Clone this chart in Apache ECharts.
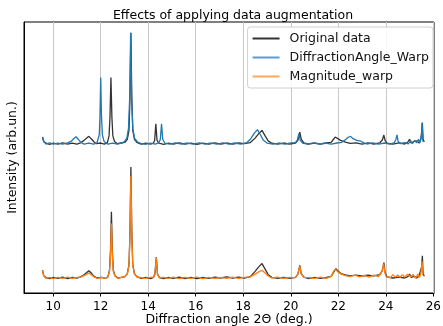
<!DOCTYPE html>
<html>
<head>
<meta charset="utf-8">
<script src="https://cdn.jsdelivr.net/npm/echarts@6/dist/echarts.min.js"></script>
<style>
  html, body { margin: 0; padding: 0; background: #fff; }
  #chart { width: 443px; height: 326px; }
</style>
</head>
<body>
<div id="chart"></div>
<script>
// x tick labels (deg.)
const xTicks = [10, 12, 14, 16, 18, 20, 22, 24, 26]

// vertical stacking of the two pairs of patterns
const upperOffset = 1.345
const lowerOffset = 0.135

// original pattern, upper pair (2theta, relative intensity)
const originalTop = [
  [9.55, 0.06], [9.6, 0.02], [9.7, 0.004], [9.85, -0.006], [10.0, 0.006], [10.2, -0.004], [10.4, 0.008],
  [10.6, -0.005], [10.8, 0.006], [11.0, -0.004], [11.15, 0.008], [11.3, 0.03], [11.5, 0.066], [11.62, 0.04],
  [11.72, 0.015], [11.82, 0.0], [12.0, 0.006], [12.15, -0.004], [12.28, 0.01], [12.35, 0.07], [12.39, 0.24],
  [12.43, 0.597], [12.47, 0.24], [12.51, 0.07], [12.58, 0.02], [12.7, 0.0], [12.85, 0.006], [13.02, 0.012],
  [13.12, 0.04], [13.19, 0.12], [13.23, 0.4], [13.27, 1.0], [13.31, 0.4], [13.35, 0.12], [13.42, 0.04],
  [13.52, 0.012], [13.7, -0.004], [13.9, 0.006], [14.1, -0.005], [14.22, 0.006], [14.27, 0.03], [14.32, 0.18],
  [14.37, 0.03], [14.45, 0.004], [14.65, -0.006], [14.85, 0.006], [15.05, -0.004], [15.3, 0.007], [15.55, -0.005],
  [15.8, 0.006], [16.05, -0.006], [16.3, 0.005], [16.55, -0.004], [16.8, 0.007], [17.05, -0.005], [17.3, 0.006],
  [17.55, -0.004], [17.8, 0.006], [18.05, 0.0], [18.3, 0.01], [18.5, 0.05], [18.65, 0.09], [18.79, 0.12],
  [18.92, 0.07], [19.05, 0.025], [19.2, 0.004], [19.45, -0.005], [19.7, 0.006], [19.95, -0.004], [20.2, 0.006],
  [20.3, 0.03], [20.38, 0.105], [20.44, 0.04], [20.55, 0.008], [20.75, -0.005], [21.0, 0.006], [21.25, -0.004],
  [21.5, 0.006], [21.7, 0.012], [21.8, 0.04], [21.87, 0.06], [21.95, 0.05], [22.1, 0.03], [22.3, 0.015],
  [22.5, 0.002], [22.75, 0.008], [23.0, -0.004], [23.25, 0.007], [23.5, -0.003], [23.75, 0.008], [23.86, 0.035],
  [23.92, 0.078], [23.97, 0.03], [24.05, 0.004], [24.3, -0.004], [24.55, 0.007], [24.8, -0.003], [24.93, 0.015],
  [25.0, 0.04], [25.07, 0.006], [25.18, 0.02], [25.25, 0.002], [25.32, 0.025], [25.4, 0.005], [25.47, 0.035],
  [25.51, 0.1], [25.54, 0.19], [25.57, 0.04], [25.62, 0.015]
]

// DiffractionAngle_Warp, upper pair
const angleWarp = [
  [9.55, 0.06], [9.6, 0.02], [9.7, -0.004], [9.85, 0.007], [10.0, -0.005], [10.2, 0.006], [10.4, -0.004],
  [10.6, 0.008], [10.75, 0.02], [10.85, 0.042], [10.96, 0.062], [11.06, 0.038], [11.16, 0.012], [11.3, -0.004],
  [11.5, 0.006], [11.7, -0.004], [11.84, 0.008], [11.9, 0.025], [11.94, 0.08], [11.97, 0.26], [12.0, 0.595],
  [12.03, 0.26], [12.07, 0.08], [12.14, 0.02], [12.3, -0.004], [12.5, 0.006], [12.7, -0.004], [12.9, 0.008],
  [13.0, 0.018], [13.1, 0.05], [13.17, 0.14], [13.22, 0.42], [13.26, 1.0], [13.3, 0.42], [13.35, 0.14],
  [13.42, 0.05], [13.55, 0.015], [13.7, 0.0], [13.9, -0.005], [14.1, 0.006], [14.3, -0.004], [14.45, 0.01],
  [14.51, 0.04], [14.56, 0.18], [14.61, 0.04], [14.7, 0.004], [14.9, -0.005], [15.15, 0.007], [15.4, -0.004],
  [15.65, 0.006], [15.9, -0.005], [16.15, 0.007], [16.4, -0.004], [16.65, 0.006], [16.9, -0.005], [17.15, 0.007],
  [17.4, -0.004], [17.65, 0.006], [17.9, -0.004], [18.15, 0.01], [18.3, 0.04], [18.45, 0.09], [18.6, 0.126],
  [18.72, 0.08], [18.85, 0.03], [19.0, 0.006], [19.25, -0.005], [19.5, 0.006], [19.75, -0.004], [20.0, 0.006],
  [20.2, 0.01], [20.28, 0.035], [20.34, 0.09], [20.4, 0.03], [20.5, 0.006], [20.7, -0.004], [20.95, 0.007],
  [21.2, -0.004], [21.45, 0.006], [21.7, -0.004], [21.95, 0.006], [22.15, 0.012], [22.3, 0.035], [22.42, 0.058],
  [22.52, 0.066], [22.62, 0.045], [22.78, 0.03], [22.95, 0.022], [23.05, 0.01], [23.2, -0.003], [23.45, 0.007],
  [23.7, -0.004], [23.95, 0.006], [24.2, -0.003], [24.36, 0.01], [24.43, 0.04], [24.47, 0.08], [24.52, 0.02],
  [24.62, 0.0], [24.8, 0.01], [24.95, -0.002], [25.05, 0.025], [25.12, 0.0], [25.22, 0.03], [25.3, 0.008],
  [25.38, 0.04], [25.44, 0.01], [25.5, 0.07], [25.53, 0.186], [25.56, 0.02]
]

// original pattern, lower pair
const originalBottom = [
  [9.55, 0.07], [9.6, 0.02], [9.7, 0.004], [9.85, -0.005], [10.0, 0.006], [10.2, -0.004], [10.4, 0.007],
  [10.6, -0.005], [10.8, 0.006], [11.0, 0.0], [11.15, 0.01], [11.3, 0.03], [11.5, 0.066], [11.62, 0.04],
  [11.72, 0.015], [11.85, 0.0], [12.05, 0.006], [12.2, -0.004], [12.3, 0.01], [12.37, 0.07], [12.41, 0.24],
  [12.45, 0.596], [12.49, 0.24], [12.53, 0.07], [12.6, 0.02], [12.72, 0.0], [12.88, 0.006], [13.02, 0.012],
  [13.12, 0.04], [13.19, 0.12], [13.23, 0.4], [13.27, 1.0], [13.31, 0.4], [13.35, 0.12], [13.42, 0.04],
  [13.52, 0.012], [13.7, -0.004], [13.9, 0.006], [14.1, -0.005], [14.22, 0.006], [14.28, 0.035], [14.34, 0.186],
  [14.39, 0.035], [14.47, 0.004], [14.65, -0.006], [14.85, 0.006], [15.05, -0.004], [15.3, 0.007], [15.55, -0.005],
  [15.8, 0.006], [16.05, -0.006], [16.3, 0.005], [16.55, -0.004], [16.8, 0.007], [17.05, 0.0], [17.3, 0.01],
  [17.55, 0.0], [17.8, 0.008], [18.05, 0.0], [18.3, 0.012], [18.5, 0.06], [18.65, 0.1], [18.79, 0.13],
  [18.92, 0.08], [19.05, 0.03], [19.2, 0.006], [19.45, -0.004], [19.7, 0.006], [19.95, -0.004], [20.2, 0.006],
  [20.3, 0.035], [20.38, 0.113], [20.44, 0.04], [20.55, 0.008], [20.75, -0.005], [21.0, 0.006], [21.25, -0.004],
  [21.5, 0.006], [21.7, 0.015], [21.8, 0.05], [21.9, 0.084], [22.0, 0.06], [22.12, 0.04], [22.3, 0.028],
  [22.5, 0.02], [22.75, 0.026], [23.0, 0.018], [23.25, 0.025], [23.5, 0.02], [23.75, 0.03], [23.86, 0.07],
  [23.92, 0.138], [23.97, 0.05], [24.05, 0.01], [24.3, 0.0], [24.55, 0.008], [24.8, 0.0], [24.93, 0.012],
  [25.0, 0.035], [25.07, 0.006], [25.2, 0.015], [25.3, 0.0], [25.4, 0.02], [25.47, 0.03], [25.51, 0.1],
  [25.54, 0.2], [25.57, 0.04], [25.62, 0.015]
]

// Magnitude_warp, lower pair
const magnitudeWarp = [
  [9.55, 0.065], [9.6, 0.02], [9.7, -0.004], [9.85, 0.006], [10.0, -0.005], [10.2, 0.006], [10.4, -0.004],
  [10.6, 0.007], [10.8, -0.004], [11.0, 0.006], [11.15, 0.008], [11.3, 0.022], [11.5, 0.045], [11.62, 0.028],
  [11.72, 0.01], [11.85, -0.004], [12.05, 0.006], [12.2, -0.004], [12.3, 0.008], [12.37, 0.06], [12.41, 0.2],
  [12.45, 0.49], [12.49, 0.2], [12.53, 0.06], [12.6, 0.018], [12.72, -0.004], [12.88, 0.007], [13.02, 0.012],
  [13.12, 0.038], [13.19, 0.11], [13.23, 0.37], [13.27, 0.92], [13.31, 0.37], [13.35, 0.11], [13.42, 0.038],
  [13.52, 0.01], [13.7, 0.004], [13.9, -0.004], [14.1, 0.006], [14.22, 0.008], [14.28, 0.035], [14.34, 0.18],
  [14.39, 0.035], [14.47, 0.004], [14.65, 0.006], [14.85, -0.004], [15.05, 0.007], [15.3, -0.005], [15.55, 0.006],
  [15.8, -0.004], [16.05, 0.007], [16.3, -0.005], [16.55, 0.006], [16.8, -0.004], [17.05, 0.006], [17.3, -0.004],
  [17.55, 0.007], [17.8, -0.004], [18.05, 0.006], [18.3, 0.01], [18.5, 0.035], [18.65, 0.055], [18.79, 0.07],
  [18.92, 0.045], [19.05, 0.018], [19.2, 0.0], [19.45, 0.007], [19.7, -0.004], [19.95, 0.006], [20.2, 0.004],
  [20.3, 0.035], [20.38, 0.11], [20.44, 0.04], [20.55, 0.006], [20.75, 0.004], [21.0, -0.004], [21.25, 0.007],
  [21.5, -0.003], [21.7, 0.015], [21.8, 0.06], [21.88, 0.08], [21.98, 0.055], [22.12, 0.035], [22.3, 0.022],
  [22.5, 0.012], [22.7, 0.025], [22.9, 0.01], [23.1, 0.024], [23.3, 0.008], [23.5, 0.026], [23.7, 0.012],
  [23.84, 0.06], [23.91, 0.13], [23.96, 0.05], [24.02, 0.01], [24.1, 0.028], [24.2, 0.004], [24.3, 0.03],
  [24.4, 0.008], [24.5, 0.028], [24.6, 0.006], [24.7, 0.03], [24.8, 0.01], [24.92, 0.034], [25.0, 0.048],
  [25.05, 0.012], [25.15, 0.032], [25.25, -0.002], [25.35, 0.036], [25.42, 0.004], [25.48, 0.042], [25.53, 0.15],
  [25.56, 0.03]
]

const shift = (points, offset) => points.map(p => [p[0], p[1] + offset])

const chart = echarts.init(document.getElementById('chart'), null, { renderer: 'canvas' })
const font = 'DejaVu Sans'

const options = {
  animation: false,
  backgroundColor: '#fff',
  textStyle: { fontFamily: font },
  title: {
    text: 'Effects of applying data augmentation',
    left: 228,
    top: 4,
    textAlign: 'center',
    textStyle: { fontFamily: font, fontSize: 12.5, fontWeight: 'normal', color: '#000' }
  },
  legend: {
    orient: 'vertical',
    right: 10,
    top: 27,
    data: ['Original data', 'DiffractionAngle_Warp', 'Magnitude_warp'],
    icon: 'rect',
    itemWidth: 27,
    itemHeight: 2,
    itemGap: 4,
    padding: [4, 4, 4, 5],
    backgroundColor: 'rgba(255,255,255,0.85)',
    borderColor: '#d0d0d0',
    borderWidth: 1,
    borderRadius: 3,
    textStyle: { fontFamily: font, fontSize: 12.5, color: '#111', padding: [0, 0, 0, 5], lineHeight: 15 }
  },
  grid: {
    left: 24,
    right: 9,
    top: 22,
    bottom: 33,
    containLabel: false,
    outerBoundsMode: 'none',
    show: true,
    borderColor: '#000',
    borderWidth: 1
  },
  xAxis: {
    type: 'value',
    min: 8.77,
    max: 26.03,
    name: 'Diffraction angle 2Θ (deg.)',
    nameLocation: 'middle',
    nameGap: 20,
    nameMoveOverlap: false,
    nameTextStyle: { fontFamily: font, fontSize: 12.5, color: '#000', verticalAlign: 'top' },
    axisLine: { show: true, lineStyle: { color: '#000', width: 1 } },
    axisTick: { show: true, length: 3.5, customValues: xTicks, lineStyle: { color: '#000' } },
    axisLabel: { customValues: xTicks, fontFamily: font, fontSize: 12, color: '#000', margin: 8 },
    splitLine: { show: true, lineStyle: { color: '#c8c8c8', width: 1 } }
  },
  yAxis: {
    type: 'value',
    min: 0,
    max: 2.441,
    name: 'Intensity (arb.un.)',
    nameLocation: 'middle',
    nameRotate: 90,
    nameGap: 5,
    nameMoveOverlap: false,
    nameTextStyle: { fontFamily: font, fontSize: 12.5, color: '#000' },
    axisLine: { show: true, lineStyle: { color: '#000', width: 1 } },
    axisTick: { show: false },
    axisLabel: { show: false },
    splitLine: { show: false }
  },
  series: [
    {
      name: 'Original data',
      type: 'line',
      data: shift(originalTop, upperOffset),
      showSymbol: false,
      color: '#333',
      lineStyle: { width: 1.3, color: '#000', opacity: 0.8 }
    },
    {
      name: 'DiffractionAngle_Warp',
      type: 'line',
      data: shift(angleWarp, upperOffset),
      showSymbol: false,
      color: '#5b9bd0',
      lineStyle: { width: 1.3, color: '#1f77b4', opacity: 1 }
    },
    {
      name: 'Original data',
      type: 'line',
      data: shift(originalBottom, lowerOffset),
      showSymbol: false,
      color: '#333',
      lineStyle: { width: 1.3, color: '#000', opacity: 0.8 }
    },
    {
      name: 'Magnitude_warp',
      type: 'line',
      data: shift(magnitudeWarp, lowerOffset),
      showSymbol: false,
      color: '#ffa85c',
      lineStyle: { width: 1.3, color: '#ff7f0e', opacity: 1 }
    }
  ]
}
chart.setOption(options)
</script>
</body>
</html>
